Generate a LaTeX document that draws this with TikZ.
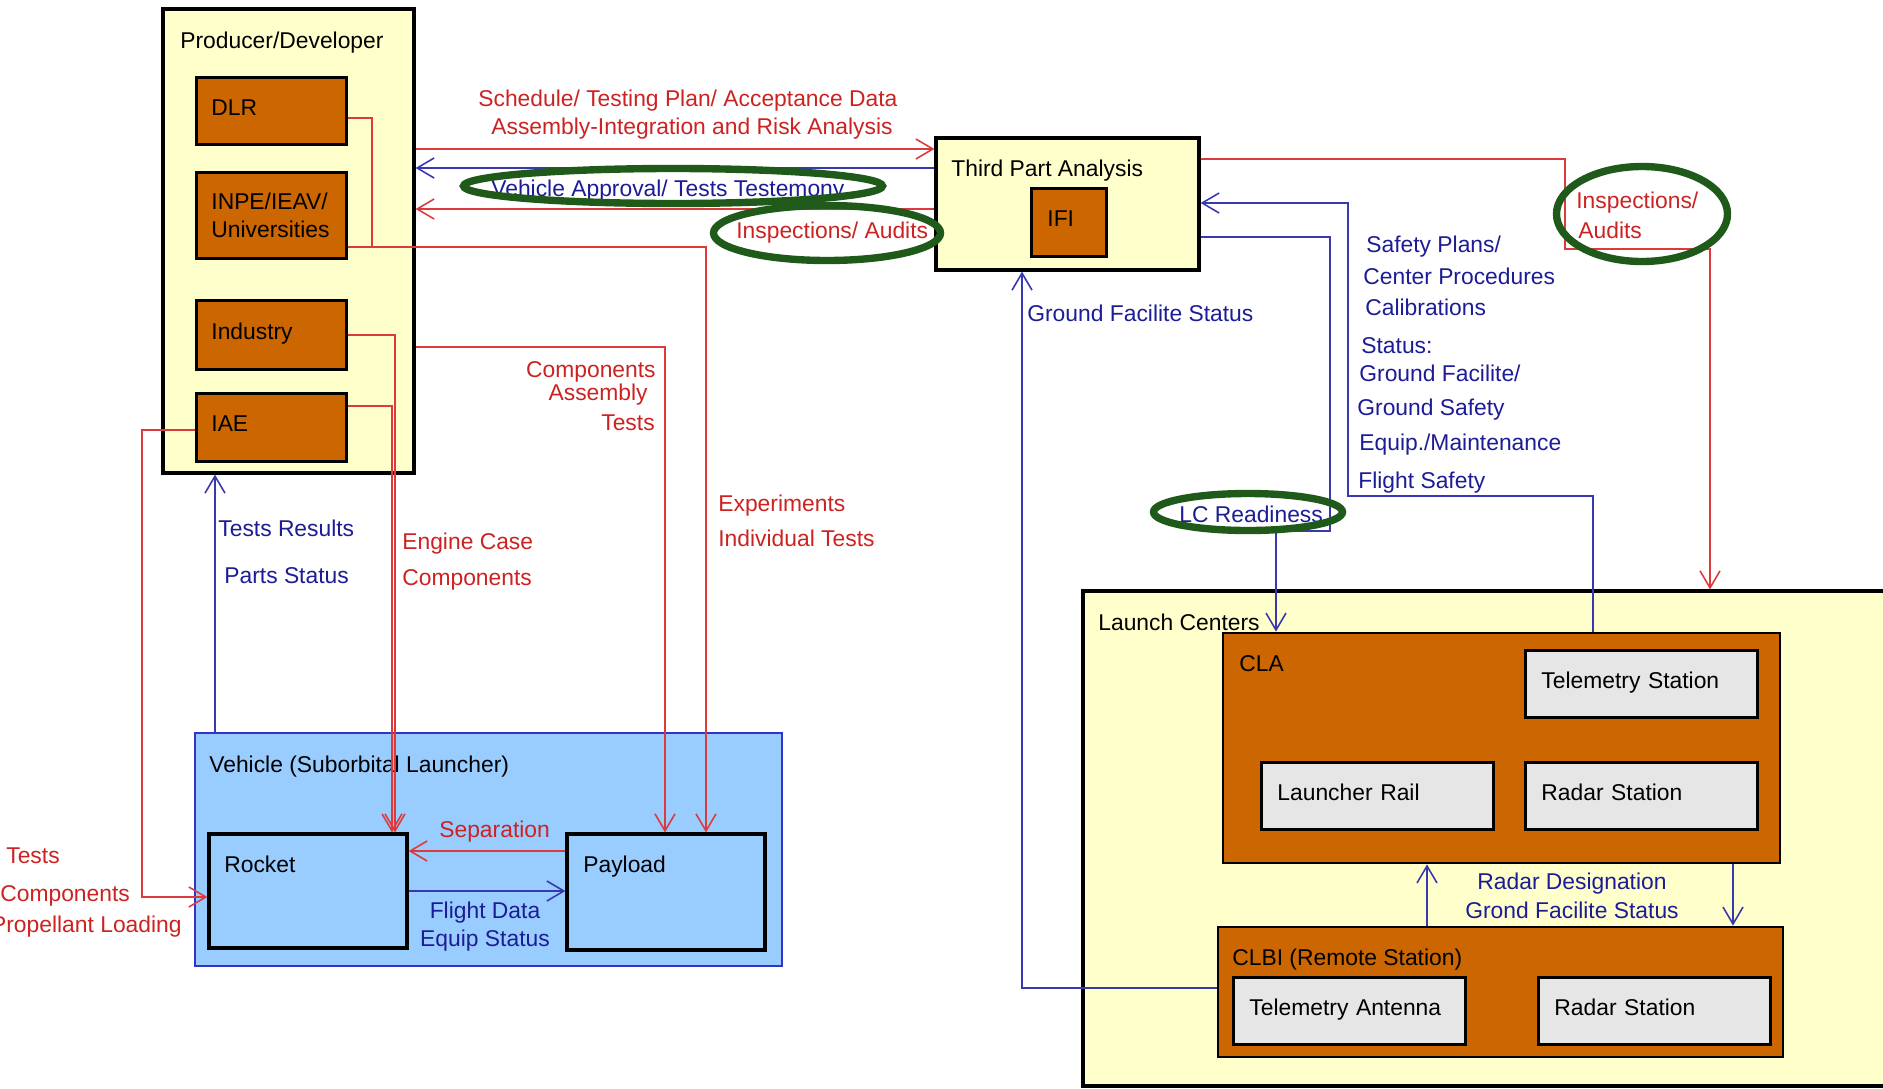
\documentclass[tikz,border=0pt]{standalone}
\usepackage{fontspec}
\setmainfont{Liberation Sans}
\usetikzlibrary{positioning,arrows.meta,fit}

\definecolor{paleyellow}{HTML}{FFFFCC}
\definecolor{rust}{HTML}{CC6600}
\definecolor{lightgrey}{HTML}{E6E6E6}
\definecolor{skyblue}{HTML}{99CCFF}
\definecolor{vehline}{HTML}{3333CC}
\definecolor{redln}{HTML}{DD3B3B}
\definecolor{redtxt}{HTML}{CC2222}
\definecolor{blueln}{HTML}{3838B0}
\definecolor{bluetxt}{HTML}{1C1C96}
\definecolor{ringgreen}{HTML}{1F5A1A}

\tikzset{
  panel/.style={draw, fill=paleyellow, line width=1.8pt, inner sep=0pt},
  obox/.style={draw, fill=rust, line width=1.6pt, inner sep=0pt, anchor=north west,
    minimum width=30mm, text width=24mm, align=left, text height=9.3pt, text depth=4.6pt},
  gbox/.style={draw, fill=lightgrey, line width=1.6pt, inner sep=0pt, anchor=north west,
    minimum width=46.4mm, minimum height=13.4mm, text width=40mm, align=left,
    text height=9.3pt, text depth=4.6pt},
  vbox/.style={draw=vehline, fill=skyblue, line width=1.6pt, inner sep=0pt},
  sbox/.style={draw, fill=skyblue, line width=1.8pt, inner sep=0pt},
  txt/.style={anchor=west, inner sep=0pt, text height=9.3pt, text depth=0pt},
  rtxt/.style={txt, text=redtxt},
  btxt/.style={txt, text=bluetxt},
  rline/.style={draw=redln, line width=0.9pt},
  bline/.style={draw=blueln, line width=0.9pt},
  ring/.style={draw=ringgreen, line width=4.2pt}
}

\begin{document}
\begin{tikzpicture}[x=0.2mm, y=-0.2mm, font=\fontsize{13}{16.4}\selectfont,
    >={Straight Barb[length=3.4mm,width=4mm]}]
  \useasboundingbox (0,0) rectangle (1883,1088);

  \node[panel, fit={(163,9) (414,473)}] (prod) {};
  \node[txt] (prodtitle) at (180,40) {Producer/Developer};
  \node[obox, minimum height=13.4mm] (dlr) at (195,76) {DLR};
  \node[obox, minimum height=17.2mm, text height={}, text depth={}] (inpe) at (195,171) {INPE/IEAV/\\Universities};
  \node[obox, minimum height=13.8mm] (industry) at (195,299) {Industry};
  \node[obox, minimum height=13.6mm] (iae) at (195,392) {IAE};

  \node[panel, fit={(936,138) (1199,270)}] (third) {};
  \node[txt] (thirdtitle) at (951,168) {Third Part Analysis};
  \node[obox, minimum width=15mm, text width=8.6mm, minimum height=13.6mm] (ifi) at (1030,187) {IFI};

  \node[vbox, fit={(195,733) (782,966)}] (vehicle) {};
  \node[txt] (vehtitle) at (209,764) {Vehicle (Suborbital Launcher)};
  \node[sbox, fit={(209,834) (407,948)}] (rocket) {};
  \node[txt] (rockettitle) at (224,864) {Rocket};
  \node[sbox, fit={(567,834) (765,950)}] (payload) {};
  \node[txt] (payloadtitle) at (583,864) {Payload};

  \node[panel, fit={(1083,591) (1900,1086)}] (launch) {};
  \node[txt] (launchtitle) at (1098,622) {Launch Centers};
  \node[obox, fit={(1223,633) (1780,863)}, anchor=center] (cla) {};
  \node[txt] (clatitle) at (1239,663) {CLA};
  \node[gbox] (telstation) at (1524,649) {Telemetry Station};
  \node[gbox] (rail) at (1260,761) {Launcher Rail};
  \node[gbox] (radarcla) at (1524,761) {Radar Station};
  \node[obox, fit={(1218,927) (1783,1057)}, anchor=center] (clbi) {};
  \node[txt] (clbititle) at (1232,957) {CLBI (Remote Station)};
  \node[gbox] (antenna) at (1232,976) {Telemetry Antenna};
  \node[gbox] (radarclbi) at (1537,976) {Radar Station};

  \draw[rline,->] (prod.east |- 0,149) -- (third.west |- 0,149);
  \draw[bline,->] (third.west |- 0,168) -- (prod.east |- 0,168);
  \draw[rline,->] (third.west |- 0,209) -- (prod.east |- 0,209);
  \draw[rline] (dlr.east |- 0,118) -| (372,247);
  \draw[rline,->] (inpe.east |- 0,247) -| (payload.north -| 706,0);
  \draw[rline,->] (industry.east) -| (rocket.north -| 395,0);
  \draw[rline,->] (iae.east |- 0,406) -| (rocket.north -| 392,0);
  \draw[rline,->] (prod.east |- 0,347) -| (payload.north -| 665,0);
  \draw[rline,->] (iae.west |- 0,430) -- (142,430) |- (rocket.west |- 0,897);
  \draw[rline,->] (payload.west |- 0,851) -- (rocket.east |- 0,851);
  \draw[bline,->] (rocket.east |- 0,891) -- (payload.west |- 0,891);
  \draw[bline,->] (vehicle.north -| 215,0) -- (prod.south -| 215,0);
  \draw[rline,->] (third.east |- 0,159) -| (1565,249) -| (launch.north -| 1710,0);
  \draw[bline,->] (clbi.west |- 0,988) -| (third.south -| 1022,0);
  \draw[bline,->] (cla.north -| 1593,0) |- (1348,496) |- (third.east |- 0,203);
  \draw[bline,->] (third.east |- 0,237) -| (1330,531) -| (cla.north -| 1276,0);
  \draw[bline,->] (clbi.north -| 1427,0) -- (cla.south -| 1427,0);
  \draw[bline,->] (cla.south -| 1733,0) -- (clbi.north -| 1733,0);

  \node[rtxt] (schedlbl) at (478,98) {Schedule/ Testing Plan/ Acceptance Data};
  \node[rtxt] (asmlbl) at (491,126) {Assembly-Integration and Risk Analysis};
  \node[btxt] (approvallbl) at (491,188) {Vehicle Approval/ Tests Testemony};
  \node[rtxt] (inspectlbl) at (736,230) {Inspections/ Audits};
  \node[rtxt, anchor=east] (complbl) at (656,369) {Components};
  \node[rtxt, anchor=east] (assylbl) at (648,392) {Assembly};
  \node[rtxt, anchor=east] (testlbl) at (655,422) {Tests};
  \node[rtxt] (explbl) at (718,503) {Experiments};
  \node[rtxt] (indivlbl) at (718,538) {Individual Tests};
  \node[rtxt] (enginelbl) at (402,541) {Engine Case};
  \node[rtxt] (enginecomplbl) at (402,577) {Components};
  \node[btxt] (resultslbl) at (218,528) {Tests Results};
  \node[btxt] (partslbl) at (224,575) {Parts Status};
  \node[rtxt] (seplbl) at (439,829) {Separation};
  \node[btxt, anchor=center] (flightlbl) at (485,910) {Flight Data};
  \node[btxt, anchor=center] (equiplbl) at (485,938) {Equip Status};
  \node[rtxt] (lefttestlbl) at (6,855) {Tests};
  \node[rtxt] (leftcomplbl) at (0,893) {Components};
  \node[rtxt, anchor=east] (proplbl) at (182,924) {Propellant Loading};
  \node[rtxt] (inspect2lbl) at (1576,200) {Inspections/};
  \node[rtxt] (auditslbl) at (1578,230) {Audits};
  \node[btxt] (groundlbl) at (1027,313) {Ground Facilite Status};
  \node[btxt] (safetylbl) at (1366,244) {Safety Plans/};
  \node[btxt] (centerlbl) at (1363,276) {Center Procedures};
  \node[btxt] (caliblbl) at (1365,307) {Calibrations};
  \node[btxt] (statuslbl) at (1361,345) {Status:};
  \node[btxt] (gfaclbl) at (1359,373) {Ground Facilite/};
  \node[btxt] (gsafelbl) at (1357,407) {Ground Safety};
  \node[btxt] (maintlbl) at (1359,442) {Equip./Maintenance};
  \node[btxt] (fsafelbl) at (1358,480) {Flight Safety};
  \node[btxt] (readylbl) at (1179,514) {LC Readiness};
  \node[btxt, anchor=center] (radarlbl) at (1572,881) {Radar Designation};
  \node[btxt, anchor=center] (grondlbl) at (1572,910) {Grond Facilite Status};

  \draw[ring] (673,186) ellipse [x radius=41.9mm, y radius=3.5mm];
  \draw[ring] (827,233) ellipse [x radius=22.7mm, y radius=5.5mm];
  \draw[ring] (1642,214) ellipse [x radius=17.1mm, y radius=9.5mm];
  \draw[ring] (1248,512) ellipse [x radius=18.9mm, y radius=3.7mm];
\end{tikzpicture}
\end{document}
